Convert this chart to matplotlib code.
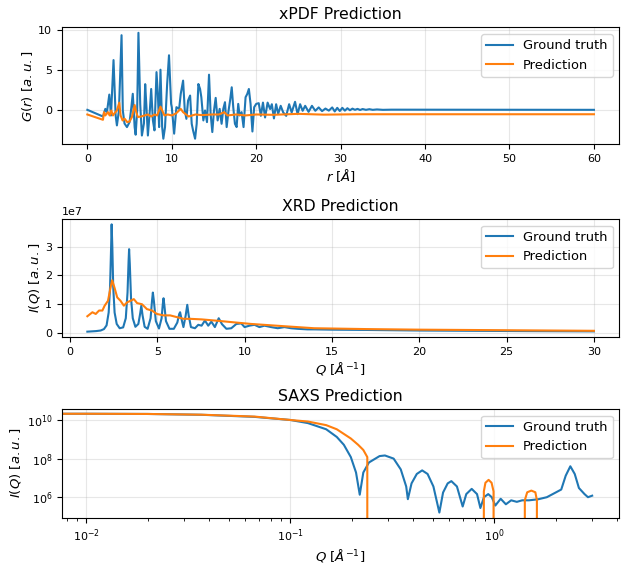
import numpy as np
import matplotlib
matplotlib.use("Agg")
import matplotlib.pyplot as plt

# xPDF: r [A], G(r)
pdf_r_true = [
    0.0, 1.85, 2.13, 2.32, 2.6, 2.8, 3.1, 3.35, 3.5, 3.74, 4.05, 4.2, 4.4, 4.69,
    5.0, 5.2, 5.38, 5.6, 5.72, 5.9, 6.05, 6.26, 6.46, 6.7, 6.85, 7.0, 7.17, 7.4,
    7.56, 7.76, 7.95, 8.19, 8.35, 8.5, 8.66, 8.86, 9.0, 9.2, 9.45, 9.67, 9.92,
    10.0, 10.28, 10.55, 10.87, 11.06, 11.34, 11.54, 11.73, 11.93, 12.17, 12.36,
    12.52, 12.76, 12.95, 13.15, 13.35, 13.5, 13.74, 13.94, 14.17, 14.41, 14.6,
    14.8, 15.0, 15.2, 15.43, 15.67, 15.9, 16.1, 16.3, 16.5, 16.7, 16.93, 17.1,
    17.28, 17.48, 17.68, 17.87, 18.03, 18.27, 18.5, 18.74, 18.94, 19.13, 19.33,
    19.55, 19.76, 20.0, 20.3, 20.55, 20.8, 21.05, 21.35, 21.65, 21.85, 22.1,
    22.36, 22.6, 22.9, 23.2, 23.55, 23.9, 24.2, 24.6, 24.9, 25.2, 25.5, 25.8,
    26.2, 26.6, 27.0, 27.4, 27.8, 28.2, 28.6, 29.0, 29.3, 29.6, 29.9, 30.2,
    30.5, 30.8, 31.1, 31.4, 31.7, 32.0, 32.3, 32.6, 33.0, 33.4, 33.8, 34.3,
    35.0, 36.0, 60.0,
]
pdf_g_true = [
    0.0, -0.83, 0.12, -0.29, 1.9, -0.7, 6.2, -0.7, -1.94, -0.08, 9.3, -0.08, -1.7, -2.15,
    -1.53, 0.2, 2.0, -2.15, -3.1, -0.08, 9.6, 0.74, -3.2, -1.7, 3.2, 0.33, -3.2, -0.08,
    2.6, -1.3, -2.56, 4.7, 2.0, -2.15, 5.0, -2.15, -3.6, -2.15, 3.2, 6.8, 0.74,
    0.33, -2.97, 0.33, 0.12, 1.98, 3.64, -0.08, -1.12, 1.16, 1.78, -1.74,
    -2.56, -3.6, -1.74, 3.22, 2.6, 1.57, -1.32, -0.08, -1.53, 4.38, -0.5,
    -2.77, -0.08, 1.49, -1.32, 0.12, -1.74, 0.12, 0.95, -2.15, -0.29, 1.36, 2.81,
    0.33, -1.74, -2.15, 0.74, -0.7, -0.29, -2.15, 1.57, 1.98, 2.6, 0.74,
    -2.7, 0.33, 0.74, 0.83, -0.74, 0.9, -0.95, 0.9, 0.1, 0.7, -1.07,
    0.7, -0.5, 0.5, -0.33, -0.75, 0.7, -0.33, 1.0, -0.54, 0.7, -0.12, 0.5,
    -0.25, 0.5, -0.12, 0.3, -0.16, 0.16, -0.1, 0.3, -0.2, 0.25, -0.15, 0.25,
    -0.1, 0.2, -0.05, 0.15, 0.0, 0.12, -0.02, 0.1, 0.0, 0.08, 0.0, 0.05,
    0.0, 0.02, 0.0,
]
pdf_r_pred = [
    0.0, 1.85, 1.97, 2.13, 2.44, 2.64, 2.83, 3.03, 3.23, 3.5, 3.78, 3.94, 4.17,
    4.41, 4.72, 5.0, 5.28, 5.6, 5.79, 5.98, 6.38, 6.77, 7.17, 7.56, 7.95, 8.27,
    8.66, 8.86, 9.13, 9.53, 10.0, 10.5, 11.06, 11.34, 12.0, 12.8, 13.6, 14.8,
    15.6, 16.2, 16.6, 17.6, 18.7, 20.0, 22.0, 25.0, 28.0, 32.0, 40.0, 50.0, 60.0,
]
pdf_g_pred = [
    -0.58, -1.24, -0.29, -0.7, -0.29, -0.7, -0.08, -0.7, -0.41, -0.08, 0.9, -0.7, -1.32,
    -1.1, -1.53, -1.45, -0.9, 0.6, -0.29, -0.9, -0.83, -0.7, -0.58, -0.83, -0.58, -0.7,
    0.4, -0.08, -0.7, -0.58, -0.7, -0.45, 0.12, -0.29, -0.83, -0.58, -0.66, -0.58,
    -0.58, -0.29, -0.7, -0.58, -0.7, -0.58, -0.62, -0.5, -0.6, -0.55, -0.55, -0.55, -0.55,
]

# XRD: Q [1/A], I(Q) in units of 1e7
xrd_q_true = [
    1.0, 1.5, 1.76, 1.95, 2.1, 2.22, 2.3, 2.36, 2.39, 2.43, 2.48, 2.56, 2.68,
    2.85, 3.05, 3.2, 3.3, 3.36, 3.39, 3.43, 3.5, 3.6, 3.75, 3.92, 4.02, 4.09,
    4.16, 4.28, 4.45, 4.62, 4.7, 4.75, 4.81, 4.92, 5.1, 5.25, 5.32, 5.36, 5.41,
    5.5, 5.7, 5.95, 6.15, 6.26, 6.31, 6.38, 6.5, 6.63, 6.72, 6.8, 6.93,
    7.16, 7.35, 7.54, 7.73, 7.92, 8.1, 8.3, 8.52, 8.71, 8.96, 9.24, 9.53, 9.81,
    10.0, 10.28, 10.57, 10.85, 11.14, 11.52, 11.9, 12.28, 12.66, 13.04, 13.6,
    13.98, 15.0, 17.0, 20.0, 23.0, 26.0, 30.0,
]
xrd_i_true = [
    0.03, 0.05, 0.07, 0.12, 0.25, 0.7, 1.6, 3.0, 3.79, 3.0, 1.6, 0.7, 0.3,
    0.15, 0.18, 0.5, 1.4, 2.5, 2.92, 2.4, 1.2, 0.5, 0.2, 0.3, 0.65, 0.94,
    0.6, 0.2, 0.13, 0.5, 1.1, 1.40, 1.1, 0.4, 0.14, 0.5, 1.0, 1.20, 0.95,
    0.4, 0.13, 0.13, 0.35, 0.65, 0.71, 0.5, 0.19, 0.6, 0.97, 0.6, 0.19,
    0.15, 0.27, 0.24, 0.42, 0.24, 0.38, 0.19, 0.50, 0.29, 0.13, 0.15, 0.30, 0.32,
    0.19, 0.24, 0.27, 0.19, 0.24, 0.19, 0.15, 0.19, 0.15, 0.13, 0.11,
    0.11, 0.10, 0.09, 0.07, 0.06, 0.05, 0.04,
]
xrd_q_pred = [
    1.0, 1.29, 1.48, 1.67, 1.86, 1.99, 2.18, 2.33, 2.42, 2.55, 2.71, 2.9, 3.09,
    3.28, 3.47, 3.66, 3.85, 4.13, 4.41, 4.7, 4.98, 5.36, 5.74, 6.12, 6.5, 6.88,
    7.54, 8.48, 9.5, 10.38, 12.28, 13.98, 15.0, 17.0, 20.0, 25.0, 30.0,
]
xrd_i_pred = [
    0.57, 0.71, 0.65, 0.77, 0.77, 0.94, 1.11, 1.58, 1.83, 1.58, 1.23, 1.11, 0.94,
    1.06, 1.11, 1.17, 1.03, 0.99, 0.82, 0.77, 0.65, 0.60, 0.60, 0.54, 0.48, 0.48,
    0.46, 0.41, 0.35, 0.30, 0.22, 0.15, 0.14, 0.12, 0.10, 0.08, 0.06,
]

# SAXS: Q [1/A], I(Q)
saxs_q_true = [
    0.005, 0.01, 0.02, 0.0366, 0.0668, 0.1, 0.122, 0.15, 0.169, 0.183, 0.198, 0.21,
    0.219, 0.228, 0.243, 0.274, 0.291, 0.321, 0.348, 0.37, 0.377,
    0.393, 0.417, 0.443, 0.471, 0.503, 0.538,
    0.561, 0.591, 0.616, 0.656, 0.7,
    0.729, 0.775, 0.823, 0.855,
    0.89, 0.934, 0.972, 1.012,
    1.075, 1.14, 1.21, 1.29, 1.37, 1.48, 1.64, 1.81, 2.0, 2.13, 2.24, 2.36,
    2.48, 2.6, 2.77, 2.88, 3.02,
]
saxs_i_true = [
    2.1e10, 2.1e10, 2.05e10, 1.86e10, 1.45e10, 1.0e10, 6.9e9, 3.3e9, 1.32e9, 5.2e8, 1.2e8, 1.9e7,
    1.35e6, 1.9e7, 6.3e7, 1.35e8, 1.45e8, 1.0e8, 2.75e7, 3.6e6, 7.9e5,
    5.2e6, 1.6e7, 2.45e7, 1.6e7, 3.6e6, 1.6e5,
    1.75e6, 5.2e6, 6.8e6, 3.6e6, 3.3e5,
    1.45e6, 2.7e6, 1.45e6, 2.75e5,
    1.0e6, 1.45e6, 1.0e6, 3.7e5,
    8.3e5, 4.3e5, 6.9e5, 5.75e5, 6.9e5, 6.9e5, 7.8e5, 1.0e6, 1.75e6, 2.5e6, 1.3e7, 4.0e7,
    1.6e7, 3.0e6, 1.45e6, 1.0e6, 1.2e6,
]
saxs_q_pred = [
    0.005, 0.01, 0.02, 0.0366, 0.0668, 0.1, 0.122, 0.15, 0.169, 0.183, 0.198, 0.215,
    0.228, 0.2385, 0.2392, 0.887, 0.889, 0.905, 0.938, 0.97, 0.992, 0.994, 1.408,
    1.412, 1.45, 1.52, 1.59, 1.618, 1.622, 3.02,
]
saxs_i_pred = [
    2.1e10, 2.1e10, 2.05e10, 1.88e10, 1.5e10, 1.0e10, 8.3e9, 5.4e9, 3.3e9, 1.9e9, 1.1e9, 5.2e8,
    2.8e8, 1.2e8, -1e7, -1e5, 2.0e6, 5.6e6, 7.9e6, 5.6e6, 2.0e6, -1e5, -1e5,
    7e5, 1.8e6, 2.2e6, 1.8e6, 7e5, -1e5, -1e5,
]

plt.rcParams.update({
    "xtick.labelsize": 8,
    "ytick.labelsize": 8,
    "axes.labelsize": 9.5,
    "axes.titlesize": 11.3,
    "legend.fontsize": 9.4,
    "axes.labelpad": 2.5,
})

fig = plt.figure(figsize=(6.24, 5.67), dpi=100)
ax_pdf = fig.add_axes([0.0994, 0.746, 0.893, 0.2055])
ax_xrd = fig.add_axes([0.0994, 0.4056, 0.893, 0.2082])
ax_saxs = fig.add_axes([0.0994, 0.087, 0.893, 0.1917])

ax = ax_pdf
ax.plot(pdf_r_true, pdf_g_true, label="Ground truth")
ax.plot(pdf_r_pred, pdf_g_pred, label="Prediction")
ax.set_title("xPDF Prediction")
ax.set_xlabel(r"$r$ $[\AA]$")
ax.set_ylabel(r"$G(r)$ $[a.u.]$")
ax.grid(alpha=0.3)
ax.legend(loc="upper right")

ax = ax_xrd
ax.plot(xrd_q_true, np.array(xrd_i_true) * 1e7, label="Ground truth")
ax.plot(xrd_q_pred, np.array(xrd_i_pred) * 1e7, label="Prediction")
ax.set_title("XRD Prediction")
ax.set_xlabel(r"$Q$ $[\AA^{-1}]$")
ax.set_ylabel(r"$I(Q)$ $[a.u.]$")
ax.grid(alpha=0.3)
ax.legend(loc="upper right")

ax = ax_saxs
ax.plot(saxs_q_true, saxs_i_true, label="Ground truth")
ax.plot(saxs_q_pred, saxs_i_pred, label="Prediction")
ax.set_xscale("log")
ax.set_yscale("log")
ax.set_xlim(0.0076, 4.1)
ax.set_ylim(10**4.94, 10**10.57)
ax.set_title("SAXS Prediction")
ax.set_xlabel(r"$Q$ $[\AA^{-1}]$")
ax.set_ylabel(r"$I(Q)$ $[a.u.]$")
ax.grid(alpha=0.3)
ax.legend(loc="upper right")

fig.savefig("out.png", dpi=100)
